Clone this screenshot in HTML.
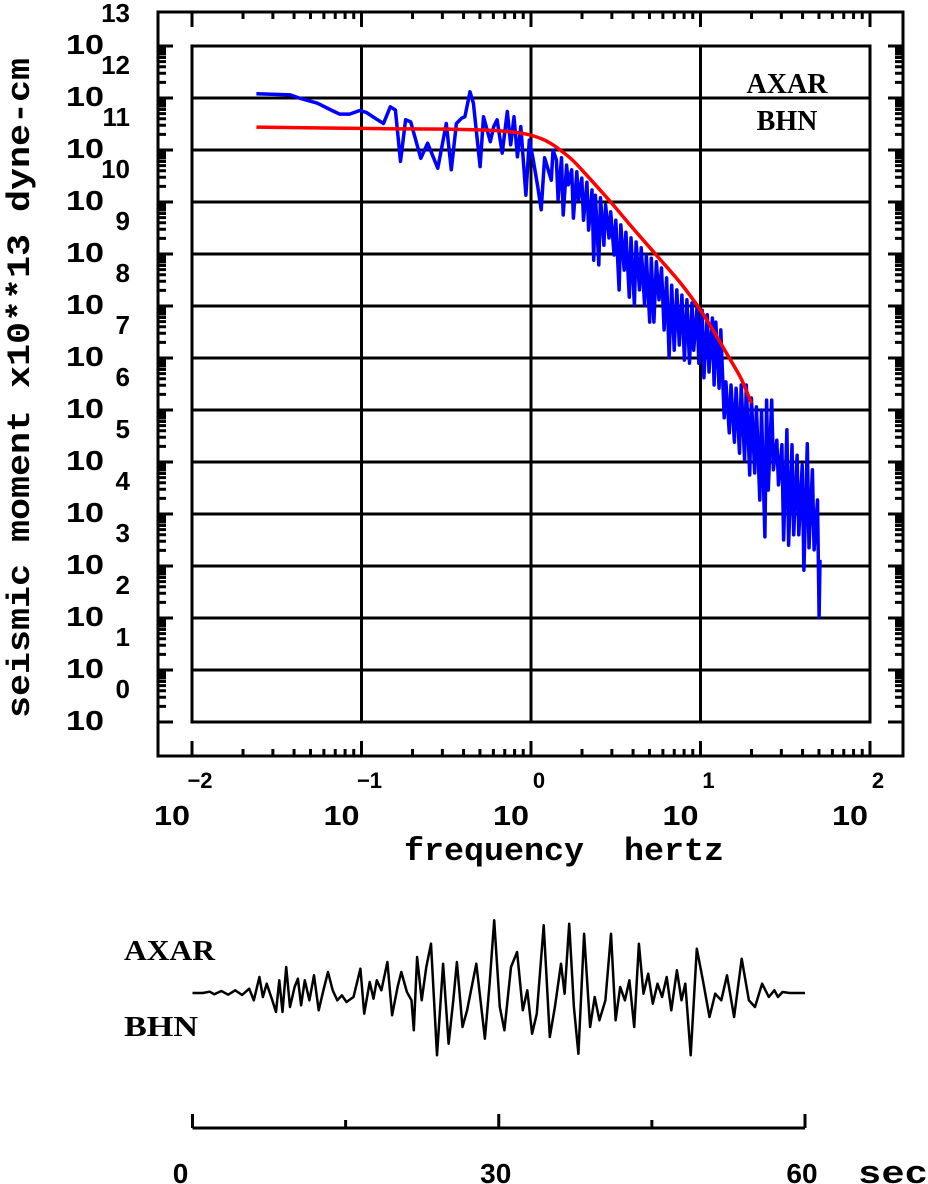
<!DOCTYPE html>
<html><head><meta charset="utf-8"><style>
html,body{margin:0;padding:0;background:#fff;}
svg{display:block;}
</style></head>
<body>
<svg id="chart" width="928" height="1184" viewBox="0 0 928 1184" xmlns="http://www.w3.org/2000/svg">
  <rect x="0" y="0" width="928" height="1184" fill="#fff"/>
  <g id="frame"></g>
  <g id="grid"></g>
  <g id="series"></g>
  <g id="labels"></g>
  <text x="787" y="93" font-family="Liberation Serif, serif" font-weight="bold" font-size="28" text-anchor="middle">AXAR</text>
  <text x="787" y="130" font-family="Liberation Serif, serif" font-weight="bold" font-size="28" text-anchor="middle">BHN</text>
  <text transform="translate(29,718) rotate(-90)" font-family="Liberation Mono, monospace" font-weight="bold" font-size="32" textLength="660" lengthAdjust="spacingAndGlyphs">seismic moment x10**13 dyne-cm</text>
  <text x="404" y="860" font-family="Liberation Mono, monospace" font-weight="bold" font-size="32" textLength="320" lengthAdjust="spacingAndGlyphs" xml:space="preserve">frequency  hertz</text>
  <text x="124" y="960" font-family="Liberation Serif, serif" font-weight="bold" font-size="28" textLength="91" lengthAdjust="spacingAndGlyphs">AXAR</text>
  <text x="124" y="1036" font-family="Liberation Serif, serif" font-weight="bold" font-size="28" textLength="74" lengthAdjust="spacingAndGlyphs">BHN</text>
  <g id="wave"></g>
  <text x="858" y="1183" font-family="Liberation Mono, monospace" font-weight="bold" font-size="32" textLength="70" lengthAdjust="spacingAndGlyphs">sec</text>
</svg>
<script>
// ---- spectrum data (log10 frequency Hz, log10 seismic moment) ----
const yDecades = [0,1,2,3,4,5,6,7,8,9,10,11,12,13];
const xDecades = [-2,-1,0,1,2];
const xTickLabels = ["\u22122","\u22121","0","1","2"];
const blueLogF = [-1.62,-1.42,-1.36,-1.26,-1.18,-1.13,-1.07,-1.01,-0.97,-0.91,-0.87,-0.83,-0.80,-0.77,-0.74,-0.71,-0.65,-0.61,-0.55,-0.50,-0.47,-0.44,-0.41,-0.39,-0.36,-0.34,-0.30,-0.28,-0.24,-0.22,-0.20,-0.17,-0.14,-0.12,-0.10,-0.08,-0.06,-0.03,-0.01,0.01,0.04,0.06,0.08,0.12,0.13,
0.15,0.16,0.18,0.19,0.21,0.22,0.24,0.25,0.27,0.28,0.30,0.31,0.33,0.34,0.36,0.37,0.38,0.40,0.41,0.43,0.44,0.46,0.47,0.49,0.50,0.52,0.53,0.55,0.56,0.58,0.59,0.61,0.62,0.64,0.65,0.67,0.68,0.70,0.71,0.725,0.74,0.755,0.77,0.785,0.80,0.815,0.83,0.845,0.86,0.875,0.89,0.905,0.92,0.935,0.95,0.96,0.98,0.99,
1.01,1.02,1.04,1.05,1.07,1.08,1.09,1.11,1.12,1.14,1.15,1.17,1.18,1.20,1.21,1.23,1.24,1.26,1.27,1.29,1.30,1.32,1.33,1.35,1.36,1.38,1.39,1.40,1.42,1.43,1.45,1.46,1.48,1.49,1.51,1.52,1.54,1.55,1.57,1.58,1.60,1.61,1.63,1.64,1.66,1.67,1.69,1.70,1.705];
const blueLogM = [12.08,12.06,11.99,11.90,11.77,11.69,11.69,11.76,11.72,11.59,11.51,11.83,11.77,10.78,11.58,11.54,10.84,11.13,10.65,11.51,10.62,11.51,11.61,11.64,12.12,11.90,10.68,11.64,11.16,11.45,11.58,10.94,11.74,11.10,11.64,10.87,11.45,10.13,11.19,10.87,10.29,9.85,10.85,10.42,11.0,
10.81,10.04,10.85,9.75,10.71,10.33,10.62,9.69,10.58,10.04,10.46,9.65,10.38,9.46,10.23,8.88,10.13,8.79,10.08,9.17,9.94,9.31,9.81,8.98,9.65,8.31,9.56,8.69,9.42,8.17,9.31,8.02,9.23,8.31,9.12,8.02,8.98,7.69,8.92,7.69,8.85,8.12,8.73,7.54,8.54,7.02,8.40,7.15,8.31,7.25,8.21,6.96,8.12,6.90,8.06,7.15,8.00,6.90,
7.92,6.62,7.83,6.73,7.77,6.48,7.69,6.42,7.54,5.85,6.54,5.56,6.48,5.38,6.42,5.17,6.48,5.04,6.48,4.75,6.23,4.79,6.06,4.27,6.00,3.56,6.19,4.46,6.19,4.85,5.42,4.56,5.33,3.50,5.62,3.40,5.33,3.60,5.13,3.60,4.94,2.92,5.35,3.35,4.85,3.31,4.27,2.02,3.12];
const redLogF = [-1.62,-0.87,-0.47,-0.24,-0.12,-0.02,0.06,0.12,0.18,0.24,0.30,0.47,0.60,0.75,0.88,1.00,1.08,1.17,1.24,1.30];
const redLogM = [11.44,11.41,11.40,11.38,11.35,11.30,11.22,11.12,10.98,10.82,10.62,10.0,9.5,8.94,8.45,7.92,7.5,7.0,6.6,6.13];

// ---- seismogram data (seconds, counts) ----
const timeTicks = [0,15,30,45,60];
const timeTickLabels = ["0","","30","","60"];
const waveT = [0,1.0,1.68,2.14,2.82,3.5,4.18,4.86,5.55,6.0,6.55,6.9,7.27,7.82,8.18,8.5,8.82,9.18,9.55,10.0,10.32,10.64,11.0,11.45,11.9,12.36,12.82,13.27,13.73,14.18,14.64,15.09,15.77,16.45,16.82,17.36,17.73,18.05,18.5,19.09,19.55,20.09,20.45,21.0,21.45,21.68,22.0,22.45,22.9,23.36,23.95,24.55,25.09,25.55,25.9,26.45,26.9,27.8,28.64,29.1,29.55,30.1,30.55,31.2,31.8,32.36,32.8,33.27,33.73,34.4,35.0,35.5,36.1,36.45,36.9,37.36,37.8,38.36,38.95,39.4,39.86,40.45,41.0,41.45,41.9,42.36,42.8,43.27,43.73,44.18,44.64,45.09,45.55,46.0,46.45,46.9,47.45,47.9,48.27,48.8,49.4,50.0,50.64,51.2,51.8,52.36,53.05,53.8,54.5,55.1,55.8,56.45,57.0,57.36,57.8,58.5,60];
const waveA = [0,0,4,-4,6,-5,8,-6,13,-22,48,-12,28,-22,-57,38,-57,78,-42,18,43,-37,38,-22,53,-52,8,63,8,-22,-7,-27,-12,73,-62,33,-17,38,8,93,-67,18,63,3,-22,-112,108,-22,78,148,-187,88,-152,-22,93,-102,-52,88,-137,28,218,-42,-112,78,123,-52,8,-122,-62,203,-132,-42,88,-2,208,-42,-182,178,-102,-12,-82,-22,178,-82,18,-22,38,-102,148,-2,58,-32,28,-12,48,-52,68,-22,28,-187,133,38,-72,-2,-22,53,-72,103,-22,-42,28,-12,8,-12,3,0,0];

const NS = "http://www.w3.org/2000/svg";
const PX0 = 192, PX1 = 870, PY0 = 46, PY1 = 722;
const OX0 = 158, OX1 = 903, OY0 = 12, OY1 = 756;
function sx(lf){ return PX0 + (lf - (-2)) * (PX1 - PX0) / 4; }
function sy(lm){ return PY1 - lm * (PY1 - PY0) / 13; }
const WX0 = 192.5, WX1 = 805, WBASE = 993;
function tx(t){ return WX0 + t * (WX1 - WX0) / 60; }
function ty(a){ return WBASE - a / 3; }

function mk(tag, attrs, parent){
  const e = document.createElementNS(NS, tag);
  for (const k in attrs) e.setAttribute(k, attrs[k]);
  parent.appendChild(e);
  return e;
}
const frame = document.getElementById('frame');
const grid = document.getElementById('grid');
const series = document.getElementById('series');
const labels = document.getElementById('labels');
const wave = document.getElementById('wave');

let of = mk('rect', {x:OX0, y:OY0, width:OX1-OX0, height:OY1-OY0, fill:'none', stroke:'#000', 'stroke-width':3}, frame);


let ib = mk('rect', {x:PX0, y:PY0, width:PX1-PX0, height:PY1-PY0, fill:'none', stroke:'#000', 'stroke-width':3}, frame);



let tickPath = '';
yDecades.forEach(d => {
  const y = sy(d);
  tickPath += `M${OX0},${y}H${OX0+15}M${OX1},${y}H${OX1-15}`;
  if (d < 13) for (let m = 2; m <= 9; m++) {
    const ym = sy(d + Math.log10(m));
    tickPath += `M${OX0},${ym}H${OX0+8}M${OX1},${ym}H${OX1-8}`;
  }
});
xDecades.forEach(d => {
  const x = sx(d);
  tickPath += `M${x},${OY0}V${OY0+15}M${x},${OY1}V${OY1-15}`;
  if (d < 2) for (let m = 2; m <= 9; m++) {
    const xm = sx(d + Math.log10(m));
    tickPath += `M${xm},${OY0}V${OY0+7}M${xm},${OY1}V${OY1-7}`;
  }
});
let tp = mk('path', {d:tickPath, stroke:'#000', 'stroke-width':3, fill:'none'}, frame);



yDecades.forEach(d => {
  let l = mk('line', {x1:PX0, x2:PX1, y1:sy(d), y2:sy(d), stroke:'#000', 'stroke-width':3}, grid);
  
  
});
xDecades.forEach(d => {
  let l = mk('line', {x1:sx(d), x2:sx(d), y1:PY0, y2:PY1, stroke:'#000', 'stroke-width':3}, grid);
  
  
});

const tf = 'Liberation Sans, sans-serif';
yDecades.forEach(d => {
  const y = sy(d);
  let b = mk('text', {x:66, y:y+8, 'font-family':tf, 'font-weight':'bold', 'font-size':28, textLength:38, lengthAdjust:'spacingAndGlyphs'}, labels);
  b.textContent = '10';
  
  
  let e = mk('text', {x:130, y:y-24, 'font-family':tf, 'font-weight':'bold', 'font-size':26, 'text-anchor':'end'}, labels);
  e.textContent = String(d);
  
  
});
xDecades.forEach((d, i) => {
  const x = sx(d);
  let b = mk('text', {x:x-2, y:825, 'font-family':tf, 'font-weight':'bold', 'font-size':28, 'text-anchor':'end', textLength:36, lengthAdjust:'spacingAndGlyphs'}, labels);
  b.textContent = '10';
  
  
  let e = mk('text', {x:x+8, y:788, 'font-family':tf, 'font-weight':'bold', 'font-size':22, 'text-anchor':'middle'}, labels);
  e.textContent = xTickLabels[i];
  
  
});

let bp = blueLogF.map((f, i) => (i ? 'L' : 'M') + sx(f).toFixed(1) + ',' + sy(blueLogM[i]).toFixed(1)).join('');
let blue = mk('path', {d:bp, stroke:'#0000ff', 'stroke-width':3.5, fill:'none', 'stroke-linejoin':'round'}, series);



const rp = redLogF.map((f, i) => [sx(f), sy(redLogM[i])]);
let rd = `M${rp[0][0]},${rp[0][1]}`;
for (let i = 0; i < rp.length - 1; i++) {
  const p0 = rp[Math.max(0, i-1)], p1 = rp[i], p2 = rp[i+1], p3 = rp[Math.min(rp.length-1, i+2)];
  const c1x = p1[0] + (p2[0]-p0[0])/6, c1y = p1[1] + (p2[1]-p0[1])/6;
  const c2x = p2[0] - (p3[0]-p1[0])/6, c2y = p2[1] - (p3[1]-p1[1])/6;
  rd += `C${c1x.toFixed(1)},${c1y.toFixed(1)} ${c2x.toFixed(1)},${c2y.toFixed(1)} ${p2[0].toFixed(1)},${p2[1].toFixed(1)}`;
}
let red = mk('path', {d:rd, stroke:'#ff0000', 'stroke-width':3.5, fill:'none'}, series);



let wp = waveT.map((t, i) => (i ? 'L' : 'M') + tx(t).toFixed(1) + ',' + ty(waveA[i]).toFixed(1)).join('');
let wl = mk('path', {d:wp, stroke:'#000', 'stroke-width':2.5, fill:'none', 'stroke-linejoin':'round'}, wave);



let axp = `M${tx(0)},1128H${tx(60)}`;
timeTicks.forEach(t => {
  const major = (t % 30 === 0);
  axp += `M${tx(t)},1128V${major ? 1114 : 1120}`;
});
let ax = mk('path', {d:axp, stroke:'#000', 'stroke-width':3, fill:'none'}, wave);


timeTicks.forEach((t, i) => {
  if (!timeTickLabels[i]) return;
  const off = (t === 0) ? -12 : -3;
  let l = mk('text', {x:tx(t) + off, y:1183, 'font-family':tf, 'font-weight':'bold', 'font-size':28, 'text-anchor':'middle'}, wave);
  l.textContent = timeTickLabels[i];
  
  
});
</script>
</body></html>
